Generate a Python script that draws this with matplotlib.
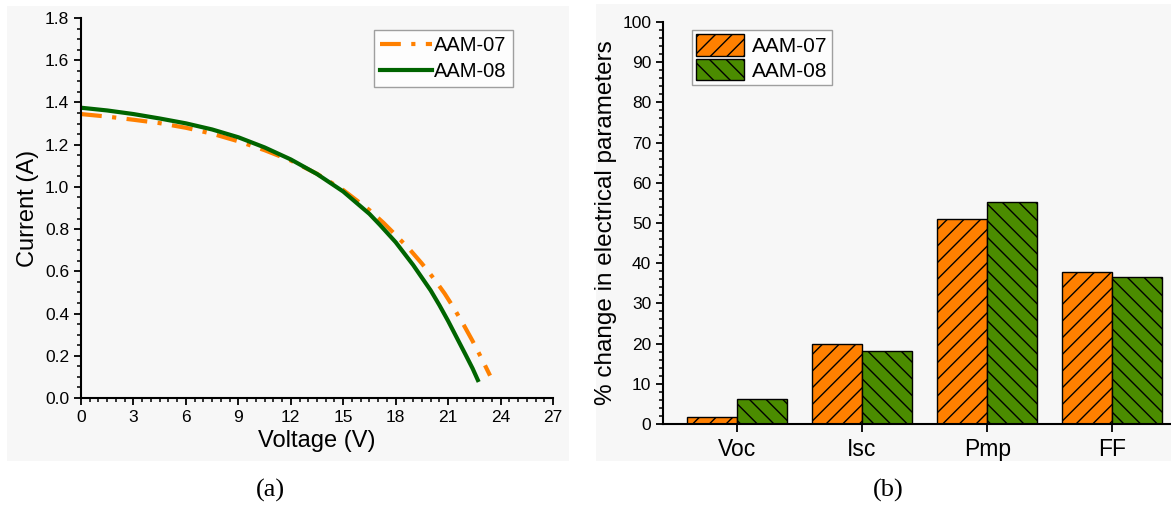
import numpy as np
import matplotlib.pyplot as plt
from matplotlib.patches import Rectangle
from matplotlib.ticker import MultipleLocator

# I-V curves
v_07 = [0, 1.5, 3, 4.5, 6, 7.5, 9, 10.5, 12, 13.5, 15, 16.5, 17.3, 18.0, 18.8, 19.5, 20.2, 20.8, 21.3, 21.9, 22.4, 22.9, 23.4]
i_07 = [1.345, 1.333, 1.318, 1.302, 1.28, 1.252, 1.216, 1.174, 1.125, 1.062, 0.985, 0.89, 0.83, 0.772, 0.704, 0.637, 0.564, 0.495, 0.43, 0.345, 0.27, 0.19, 0.106]
v_08 = [0, 1.5, 3, 4.5, 6, 7.5, 9, 10.5, 12, 13.5, 15, 16.5, 17.1, 18.0, 19.0, 20.0, 20.5, 21.0, 21.5, 22.0, 22.4, 22.7]
i_08 = [1.375, 1.362, 1.345, 1.324, 1.301, 1.272, 1.235, 1.187, 1.13, 1.061, 0.978, 0.872, 0.82, 0.738, 0.63, 0.51, 0.44, 0.365, 0.285, 0.205, 0.14, 0.085]

# % change in electrical parameters
params = ["Voc", "Isc", "Pmp", "FF"]
chg_07 = [1.7, 19.8, 50.9, 37.9]
chg_08 = [6.2, 18.2, 55.1, 36.6]

plt.rcParams['font.family'] = 'Liberation Sans'
plt.rcParams['hatch.linewidth'] = 1.0

fig = plt.figure(figsize=(11.71, 5.05), dpi=100)
W, H = 1171, 505

def px_rect(x0, y0, x1, y1):
    return Rectangle((x0 / W, 1 - y1 / H), (x1 - x0) / W, (y1 - y0) / H,
                     transform=fig.transFigure, facecolor='#f7f7f7', edgecolor='none', zorder=-10)

fig.patches.append(px_rect(7, 6, 569, 461))
fig.patches.append(px_rect(596, 4, 1171, 461))

#%% (a)
ax1 = fig.add_axes([81 / W, 1 - 398 / H, (553 - 81) / W, (398 - 18) / H])
ax1.patch.set_alpha(0)
ax1.plot(v_07, i_07, color='#ff8000', lw=3, ls=(0, (5, 2.5, 1, 2.5)), label='AAM-07')
ax1.plot(v_08, i_08, color='#006400', lw=3, label='AAM-08')
ax1.set_xlim(0, 27)
ax1.set_ylim(0, 1.8)
ax1.xaxis.set_major_locator(MultipleLocator(3))
ax1.xaxis.set_minor_locator(MultipleLocator(0.5))
ax1.yaxis.set_minor_locator(MultipleLocator(0.05))
ax1.set_yticks(np.arange(0, 1.81, 0.2))
ax1.set_yticklabels(['%.1f' % t for t in np.arange(0, 1.81, 0.2)])
for s in ['top', 'right']:
    ax1.spines[s].set_visible(False)
for s in ['left', 'bottom']:
    ax1.spines[s].set_linewidth(1.5)
ax1.tick_params(which='major', length=5, width=1.3, labelsize=12.5)
ax1.tick_params(which='minor', length=3, width=1.1)
ax1.set_xlabel('Voltage (V)', fontsize=17)
ax1.set_ylabel('Current (A)', fontsize=17)
leg1 = ax1.legend(loc='upper right', bbox_to_anchor=(0.915, 0.968), fontsize=14.5, frameon=True,
                  fancybox=False, edgecolor='#888888', handlelength=2.6, handletextpad=0.1,
                  borderpad=0.3, labelspacing=0.35, borderaxespad=0)
leg1.get_frame().set_linewidth(1.0)
leg1.get_frame().set_facecolor('white')

#%% (b)
ax2 = fig.add_axes([663 / W, 1 - 424 / H, (1170 - 663) / W, (424 - 22) / H])
ax2.patch.set_alpha(0)
x = np.arange(len(params))
w = 0.4
ax2.bar(x - w / 2, chg_07, w, color='#ff8000', edgecolor='black', linewidth=1, hatch='//', label='AAM-07')
ax2.bar(x + w / 2, chg_08, w, color='#4b8c00', edgecolor='black', linewidth=1, hatch='\\\\', label='AAM-08')
ax2.set_xlim(-0.59, 3.46)
ax2.set_ylim(0, 100)
ax2.set_xticks(x)
ax2.set_xticklabels(params, fontsize=16.5)
ax2.yaxis.set_major_locator(MultipleLocator(10))
ax2.yaxis.set_minor_locator(MultipleLocator(2))
for s in ['top', 'right']:
    ax2.spines[s].set_visible(False)
for s in ['left', 'bottom']:
    ax2.spines[s].set_linewidth(1.5)
ax2.tick_params(axis='y', which='major', length=5, width=1.3, labelsize=12.5)
ax2.tick_params(axis='y', which='minor', length=3, width=1.1)
ax2.tick_params(axis='x', which='major', length=6, width=1.3, pad=4)
ax2.set_ylabel('% change in electrical parameters', fontsize=17.5)
leg2 = ax2.legend(loc='upper left', bbox_to_anchor=(0.057, 0.98), fontsize=15, frameon=True,
                  fancybox=False, edgecolor='#888888', handlelength=2.3, handleheight=1.2,
                  handletextpad=0.4, borderpad=0.2, labelspacing=0.15, borderaxespad=0)
leg2.get_frame().set_linewidth(1.0)
leg2.get_frame().set_facecolor('white')

fig.text(270 / W, 1 - 490 / H, '(a)', family='Liberation Serif', fontsize=19, ha='center', va='center')
fig.text(888 / W, 1 - 490 / H, '(b)', family='Liberation Serif', fontsize=19, ha='center', va='center')

plt.savefig('out.png', dpi=100)
plt.close()
